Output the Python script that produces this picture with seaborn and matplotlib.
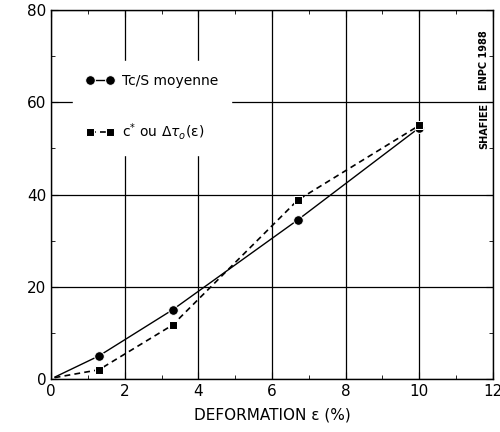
import matplotlib
matplotlib.use("Agg")
import matplotlib.pyplot as plt
import seaborn as sns
import pandas as pd

# Values (first point is the unmarked start of each curve)
deformation = [0.1, 1.3, 3.3, 6.7, 10.0]
tc_s_moyenne = [0.4, 5.0, 15.0, 34.5, 54.5]
c_ou_dtau = [0.3, 2.0, 11.7, 38.8, 55.0]

df = pd.DataFrame({"eps": deformation, "tc": tc_s_moyenne, "c": c_ou_dtau})

sns.set_style("ticks")
plt.rcParams['font.family'] = ['DejaVu Sans']
plt.rcParams['text.color'] = 'black'
plt.rcParams['axes.labelcolor'] = 'black'
plt.rcParams['xtick.color'] = 'black'
plt.rcParams['ytick.color'] = 'black'

fig = plt.figure(figsize=(5, 4.32), dpi=100)
ax = fig.add_axes([0.102, 0.1227, 0.884, 0.854])

sns.lineplot(data=df, x="eps", y="tc", ax=ax, color="black", linewidth=1.0,
             marker="o", markersize=7, markevery=[1, 2, 3, 4],
             label="Tc/S moyenne", zorder=3)
sns.lineplot(data=df, x="eps", y="c", ax=ax, color="black", linewidth=1.2,
             linestyle=(0, (3.5, 2.5)), marker="s", markersize=5.5,
             markevery=[1, 2, 3, 4],
             label=r"c$^{*}$ ou $\Delta\tau_o$(ε)", zorder=3)

ax.set_xlim(0, 12)
ax.set_ylim(0, 80)
ax.set_xticks(range(0, 13, 2))
ax.set_yticks(range(0, 81, 20))
ax.set_xticks(range(1, 12, 2), minor=True)
ax.set_yticks(range(10, 80, 20), minor=True)
ax.tick_params(which="both", direction="in", top=True, right=True, labelsize=11)
ax.tick_params(which="major", length=5)
ax.tick_params(which="minor", length=3)
ax.grid(True, which="major", color="black", linewidth=0.9)
for s in ax.spines.values():
    s.set_color("black")
    s.set_linewidth(1.0)

ax.set_xlabel("DEFORMATION ε (%)", fontsize=11, labelpad=6)
ax.set_ylabel("")

leg = ax.legend(loc="upper left", bbox_to_anchor=(0.035, 0.88), frameon=True,
                fancybox=False, edgecolor="white", facecolor="white", framealpha=1,
                numpoints=2, handlelength=2.0, labelspacing=2.4, fontsize=10,
                borderpad=0.9, handletextpad=0.6)
leg.set_zorder(5)
for h in leg.legend_handles:
    h.set_markevery(None)

ax.text(0.98, 0.865, "ENPC 1988", transform=ax.transAxes, rotation=90,
        fontsize=7, fontweight="bold", ha="center", va="center")
ax.text(0.98, 0.685, "SHAFIEE", transform=ax.transAxes, rotation=90,
        fontsize=7, fontweight="bold", ha="center", va="center")

fig.savefig("out.png", dpi=100)
